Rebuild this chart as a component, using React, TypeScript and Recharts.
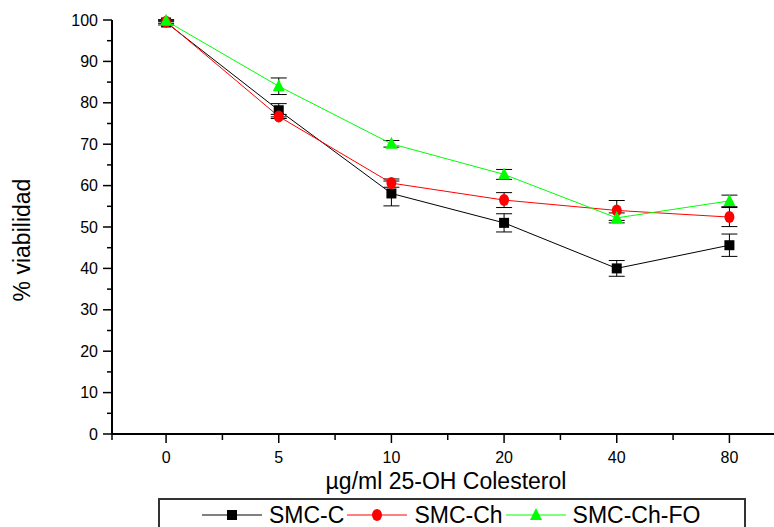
import { ErrorBar, Label, Line, LineChart, XAxis, YAxis } from "recharts";

const doses = ["0", "5", "10", "20", "40", "80"];

const smcC = [99.4, 78.2, 58.1, 51.0, 40.0, 45.6];
const smcCErr = [0.6, 1.6, 3.0, 2.2, 1.9, 2.7];
const smcCh = [99.6, 76.7, 60.6, 56.5, 54.0, 52.4];
const smcChErr = [0.4, 0.5, 1.0, 1.8, 2.4, 2.3];
const smcChFo = [99.8, 84.0, 70.1, 62.7, 52.2, 56.3];
const smcChFoErr = [0.2, 2.0, 0.8, 1.2, 1.2, 1.4];

const yTicks = [0, 5, 10, 15, 20, 25, 30, 35, 40, 45, 50, 55, 60, 65, 70, 75, 80, 85, 90, 95, 100];
const xTicks = [-0.48, 0, 0.5, 1, 1.5, 2, 2.5, 3, 3.5, 4, 4.5, 5, 5.5];

const series = [
  { key: "c", err: "cErr", name: "SMC-C", color: "#000000", marker: "square" },
  { key: "ch", err: "chErr", name: "SMC-Ch", color: "#ff0000", marker: "circle" },
  { key: "fo", err: "foErr", name: "SMC-Ch-FO", color: "#00ff00", marker: "triangle" },
];

const data = doses.map((dose, i) => ({
  idx: i,
  dose,
  c: smcC[i],
  cErr: smcCErr[i],
  ch: smcCh[i],
  chErr: smcChErr[i],
  fo: smcChFo[i],
  foErr: smcChFoErr[i],
}));

const font = "'Liberation Sans', Arial, sans-serif";

function Marker({ kind, cx, cy, color }: { kind: string; cx: number; cy: number; color: string }) {
  if (kind === "square") return <rect x={cx - 5} y={cy - 5} width={10} height={10} fill={color} />;
  if (kind === "circle") return <ellipse cx={cx} cy={cy} rx={5} ry={6} fill={color} />;
  return <polygon points={`${cx},${cy - 7} ${cx - 6},${cy + 5} ${cx + 6},${cy + 5}`} fill={color} />;
}

function makeDot(kind: string, color: string) {
  return (p: any) => (
    <Marker key={`${kind}-${p.index}`} kind={kind} cx={p.cx} cy={p.cy} color={color} />
  );
}

function XTick({ x, y, payload }: any) {
  const v = payload.value;
  const major = Number.isInteger(v);
  return (
    <g>
      <line x1={x} x2={x} y1={y} y2={y + (major ? 9 : 6)} stroke="#000" strokeWidth={1.5} />
      {major && (
        <text x={x} y={y + 29} textAnchor="middle" fontSize={16} fontFamily={font} fill="#000">
          {doses[v]}
        </text>
      )}
    </g>
  );
}

function YTick({ x, y, payload }: any) {
  const major = payload.value % 10 === 0;
  return (
    <g>
      <line x1={x} x2={x - (major ? 9 : 5)} y1={y} y2={y} stroke="#000" strokeWidth={1.5} />
      {major && (
        <text x={x - 14} y={y} dy={5.5} textAnchor="end" fontSize={16} fontFamily={font} fill="#000">
          {payload.value}
        </text>
      )}
    </g>
  );
}

function LegendBox() {
  return (
    <div
      style={{
        position: "absolute",
        left: 158,
        top: 498,
        width: 588,
        height: 40,
        border: "2px solid #333",
        boxSizing: "border-box",
        display: "flex",
        alignItems: "flex-start",
        paddingLeft: 42,
        paddingTop: 2,
        fontFamily: font,
        fontSize: 23,
        lineHeight: "26px",
      }}
    >
      {series.map((s) => (
        <div key={s.key} style={{ display: "flex", alignItems: "center", marginRight: 3 }}>
          <svg width={60} height={26}>
            <line x1={0} x2={60} y1={13} y2={13} stroke={s.color} strokeWidth={1} />
            <Marker kind={s.marker} cx={30} cy={13} color={s.color} />
          </svg>
          <span style={{ marginLeft: 7 }}>{s.name}</span>
        </div>
      ))}
    </div>
  );
}

export default function App() {
  return (
    <div
      style={{
        position: "fixed",
        left: 0,
        top: 0,
        width: 774,
        height: 527,
        overflow: "hidden",
        background: "#fff",
        fontFamily: font,
      }}
    >
      <LineChart width={800} height={527} data={data} margin={{ top: 20, right: 12, bottom: 0, left: 0 }}>
        <XAxis
          type="number"
          dataKey="idx"
          domain={[-0.48, 5.52]}
          ticks={xTicks}
          interval={0}
          tickSize={0}
          tickMargin={0}
          tickLine={false}
          tick={<XTick />}
          axisLine={{ stroke: "#000", strokeWidth: 2 }}
          height={93}
        >
          <Label
            content={() => (
              <text x={446} y={489} textAnchor="middle" fontSize={23} fontFamily={font} fill="#000">
                µg/ml 25-OH Colesterol
              </text>
            )}
          />
        </XAxis>
        <YAxis
          type="number"
          domain={[0, 100]}
          ticks={yTicks}
          interval={0}
          tickSize={0}
          tickMargin={0}
          tickLine={false}
          tick={<YTick />}
          axisLine={{ stroke: "#000", strokeWidth: 2 }}
          width={112}
        >
          <Label
            content={() => (
              <text
                x={0}
                y={0}
                transform="translate(30,240) rotate(-90)"
                textAnchor="middle"
                fontSize={23}
                fontFamily={font}
                fill="#000"
              >
                % viabilidad
              </text>
            )}
          />
        </YAxis>
        {series.map((s) => (
          <Line
            key={s.key}
            dataKey={s.key}
            name={s.name}
            type="linear"
            stroke={s.color}
            strokeWidth={1}
            dot={makeDot(s.marker, s.color)}
            activeDot={false}
            isAnimationActive={false}
          >
            <ErrorBar dataKey={s.err} width={8} stroke="#000" strokeWidth={1} direction="y" />
          </Line>
        ))}
      </LineChart>
      <LegendBox />
    </div>
  );
}
